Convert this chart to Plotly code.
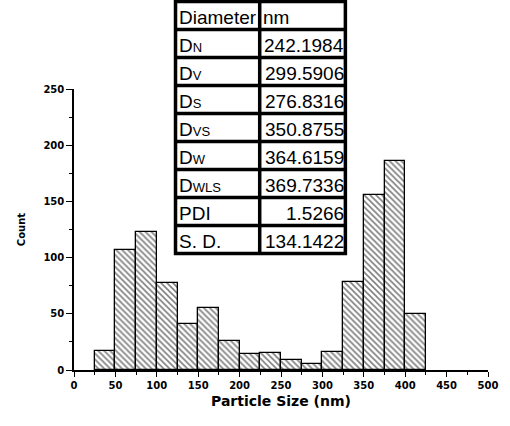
import plotly.graph_objects as go

# ---- data ----
bin_left = [25, 50, 75, 100, 125, 150, 175, 200, 225, 250, 275, 300, 325, 350, 375, 400]
bin_width = 25
counts = [17, 107, 123, 77, 41, 55, 26, 14, 15, 9, 5, 16, 78, 156, 186, 50]

table_names = ["Diameter", "D", "D", "D", "D", "D", "D", "PDI", "S. D."]
table_subs = ["", "N", "V", "S", "VS", "W", "WLS", "", ""]
table_values = ["nm", "242.1984", "299.5906", "276.8316", "350.8755",
                "364.6159", "369.7336", "1.5266", "134.1422"]

x_ticks = [0, 50, 100, 150, 200, 250, 300, 350, 400, 450, 500]
y_ticks = [0, 50, 100, 150, 200, 250]

# ---- layout geometry (pixels) ----
W, H = 510, 426
L, R, T, B = 74, 18, 89, 56
PW, PH = W - L - R, H - T - B


def px(x):
    return (x - L) / PW


def py(y):
    return (H - B - y) / PH


centers = [b + bin_width / 2 for b in bin_left]

fig = go.Figure()
fig.add_trace(go.Bar(
    x=centers, y=counts, width=bin_width,
    marker=dict(color="white",
                line=dict(color="black", width=1.3),
                pattern=dict(shape="\\", fgcolor="black", bgcolor="white",
                             size=4.2, solidity=0.38)),
    showlegend=False,
))

tick_font = dict(family="DejaVu Sans", size=10, color="black", weight="bold")

fig.update_layout(
    width=W, height=H,
    margin=dict(l=L, r=R, t=T, b=B, pad=0),
    plot_bgcolor="white", paper_bgcolor="white",
    bargap=0,
    xaxis=dict(range=[0, 500], tickvals=x_ticks, showgrid=False, zeroline=False,
               showline=True, linecolor="black", linewidth=1.5,
               ticks="outside", ticklen=5, tickwidth=1.3, tickcolor="black",
               minor=dict(ticks="outside", ticklen=3, tickwidth=1.3, tickcolor="black", dtick=25, showgrid=False),
               tickfont=tick_font,
               title=dict(text="Particle Size (nm)", standoff=6,
                          font=dict(family="DejaVu Sans", size=14, color="black", weight="bold"))),
    yaxis=dict(range=[0, 250], tickvals=y_ticks, showgrid=False, zeroline=False,
               showline=True, linecolor="black", linewidth=1.5,
               ticks="outside", ticklen=6, tickwidth=1.3, tickcolor="black",
               minor=dict(ticks="outside", ticklen=3, tickwidth=1.3, tickcolor="black", dtick=25, showgrid=False),
               tickfont=tick_font,
               title=dict(text="Count", standoff=16,
                          font=dict(family="DejaVu Sans", size=10, color="black", weight="bold"))),
)

# ---- table (shapes + annotations in paper coords) ----
tx0, tx1, txm = 176.5, 348, 261.5
ty0, row_h = 1.5, 28.0
nrows = len(table_names)
ty1 = ty0 + nrows * row_h
lw = 3.5
shapes = []
shapes.append(dict(type="rect", xref="paper", yref="paper",
                   x0=px(tx0), x1=px(tx1), y0=py(ty0), y1=py(ty1),
                   line=dict(color="black", width=lw), fillcolor="white", layer="above"))
for i in range(1, nrows):
    yy = ty0 + i * row_h
    shapes.append(dict(type="line", xref="paper", yref="paper",
                       x0=px(tx0), x1=px(tx1), y0=py(yy), y1=py(yy),
                       line=dict(color="black", width=lw), layer="above"))
shapes.append(dict(type="line", xref="paper", yref="paper",
                   x0=px(txm), x1=px(txm), y0=py(ty0), y1=py(ty1),
                   line=dict(color="black", width=lw), layer="above"))
fig.update_layout(shapes=shapes)

fs = 19
tfont = dict(family="Liberation Sans, Arial, sans-serif", size=fs, color="black")
annots = []
for i, (name, sub, val) in enumerate(zip(table_names, table_subs, table_values)):
    rc = ty0 + (i + 0.5) * row_h
    cap_center = rc + 2
    top = cap_center + 0.716 * fs / 2 - 0.905 * fs
    lab = name
    if sub:
        lab = name + "<span style='font-size:13px'>" + sub + "</span>"
    annots.append(dict(text=lab, xref="paper", yref="paper", x=px(180), y=py(top),
                       xanchor="left", yanchor="top", showarrow=False, font=tfont,
                       borderpad=0, borderwidth=0))
    if i == 0:
        annots.append(dict(text=val, xref="paper", yref="paper", x=px(264.5), y=py(top),
                           xanchor="left", yanchor="top", showarrow=False, font=tfont,
                           borderpad=0, borderwidth=0))
    else:
        annots.append(dict(text=val, xref="paper", yref="paper", x=px(347), y=py(top),
                           xanchor="right", yanchor="top", showarrow=False, font=tfont,
                           borderpad=0, borderwidth=0))
fig.update_layout(annotations=annots)

fig.write_html("out.html")
